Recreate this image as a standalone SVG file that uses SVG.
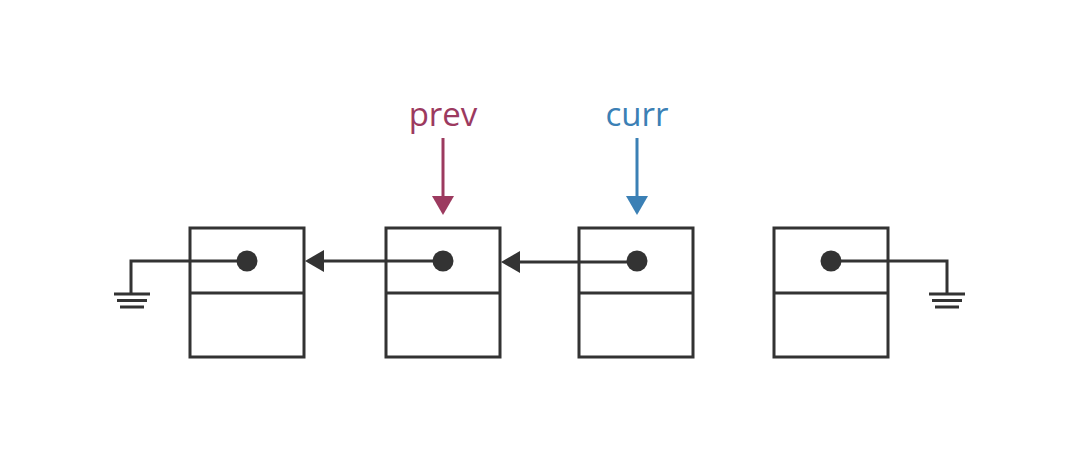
<svg xmlns="http://www.w3.org/2000/svg" width="1080" height="450" viewBox="0 0 1080 450">
<style>
.box{fill:#fff;stroke:#333;stroke-width:3}
.dot{fill:#333}
.ln{fill:none;stroke:#333;stroke-width:3}
.lbl{font-family:"Open Sans",sans-serif;font-size:33px;text-anchor:middle}
</style>
<defs>
<marker id="ah" markerUnits="userSpaceOnUse" markerWidth="20" markerHeight="24" refX="9" refY="12" orient="auto">
<path d="M0,1 L19,12 L0,23 Z" fill="#333"/>
</marker>
<marker id="ahp" markerUnits="userSpaceOnUse" markerWidth="20" markerHeight="24" refX="9" refY="12" orient="auto">
<path d="M0,1 L19,12 L0,23 Z" fill="#9c3a5f"/>
</marker>
<marker id="ahc" markerUnits="userSpaceOnUse" markerWidth="20" markerHeight="24" refX="9" refY="12" orient="auto">
<path d="M0,1 L19,12 L0,23 Z" fill="#3b80b5"/>
</marker>
</defs>
<rect width="1080" height="450" fill="#fff"/>
<g id="node1">
<rect class="box" x="190" y="228" width="114" height="129"/>
<line class="ln" x1="190" y1="293" x2="304" y2="293"/>
</g>
<g id="node2">
<rect class="box" x="386" y="228" width="114" height="129"/>
<line class="ln" x1="386" y1="293" x2="500" y2="293"/>
</g>
<g id="node3">
<rect class="box" x="579" y="228" width="114" height="129"/>
<line class="ln" x1="579" y1="293" x2="693" y2="293"/>
</g>
<g id="node4">
<rect class="box" x="774" y="228" width="114" height="129"/>
<line class="ln" x1="774" y1="293" x2="888" y2="293"/>
</g>
<g id="ground-left">
<line class="ln" x1="114" y1="294" x2="150" y2="294"/>
<line class="ln" x1="117" y1="300.5" x2="147" y2="300.5"/>
<line class="ln" x1="120" y1="307" x2="144" y2="307"/>
</g>
<g id="ground-right">
<line class="ln" x1="929" y1="294" x2="965" y2="294"/>
<line class="ln" x1="932" y1="300.5" x2="962" y2="300.5"/>
<line class="ln" x1="935" y1="307" x2="959" y2="307"/>
</g>
<g id="prev">
<text class="lbl" x="443" y="126" fill="#9c3a5f">prev</text>
</g>
<g id="curr">
<text class="lbl" x="637" y="126" fill="#3b80b5">curr</text>
</g>
<g id="connectors">
<polyline class="ln" points="247,261 131,261 131,294"/>
<polyline class="ln" points="831,261 947,261 947,294"/>
<line class="ln" x1="443" y1="261" x2="315" y2="261" marker-end="url(#ah)"/>
<line class="ln" x1="637" y1="262" x2="511" y2="262" marker-end="url(#ah)"/>
<line x1="443" y1="138" x2="443" y2="205" stroke="#9c3a5f" stroke-width="3" marker-end="url(#ahp)"/>
<line x1="637" y1="138" x2="637" y2="205" stroke="#3b80b5" stroke-width="3" marker-end="url(#ahc)"/>
</g>
<g id="dots">
<circle class="dot" cx="247" cy="261" r="10.5"/>
<circle class="dot" cx="443" cy="261" r="10.5"/>
<circle class="dot" cx="637" cy="261" r="10.5"/>
<circle class="dot" cx="831" cy="261" r="10.5"/>
</g>
</svg>
